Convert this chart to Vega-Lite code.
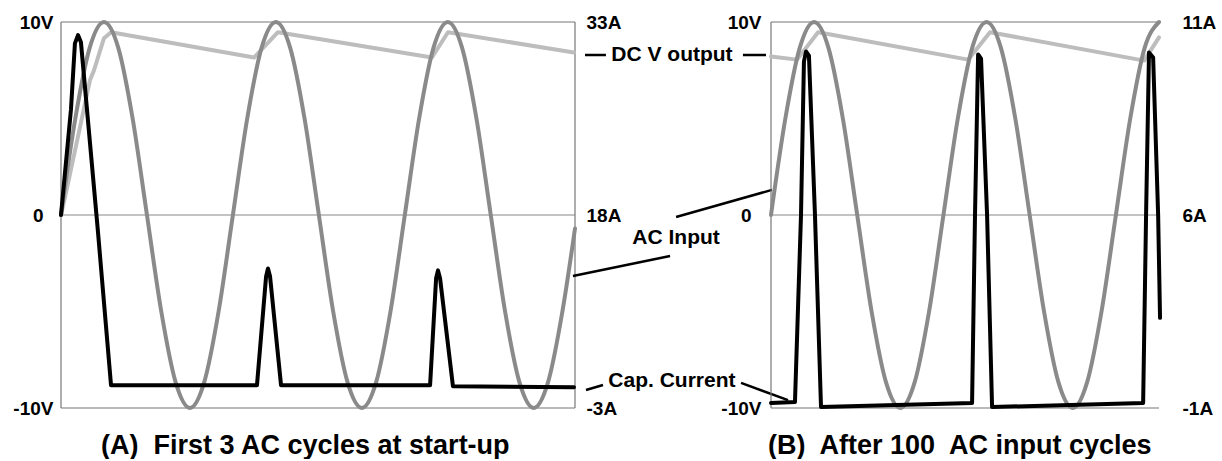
{
  "$schema": "https://vega.github.io/schema/vega-lite/v6.json",
  "background": "white",
  "padding": {"left": 12, "top": 13, "right": 0, "bottom": 0},
  "spacing": 196,
  "bounds": "flush",
  "config": {"view": {"stroke": null}, "font": "Liberation Sans"},
  "datasets": {
    "frameH": [{"v": 10}, {"v": -10}],
    "zero": [{"v": 0}],
    "frameVA": [{"t": 0}, {"t": 2.99}],
    "frameVB": [{"t": 0}],
    "acA": [
      {"t": 0, "v": 0}, {"t": 0.0833, "v": 5}, {"t": 0.1667, "v": 8.66}, {"t": 0.25, "v": 10}, {"t": 0.3333, "v": 8.66}, {"t": 0.4167, "v": 5},
      {"t": 0.5, "v": 0}, {"t": 0.5833, "v": -5}, {"t": 0.6667, "v": -8.66}, {"t": 0.75, "v": -10}, {"t": 0.8333, "v": -8.66}, {"t": 0.9167, "v": -5},
      {"t": 1, "v": 0}, {"t": 1.0833, "v": 5}, {"t": 1.1667, "v": 8.66}, {"t": 1.25, "v": 10}, {"t": 1.3333, "v": 8.66}, {"t": 1.4167, "v": 5},
      {"t": 1.5, "v": 0}, {"t": 1.5833, "v": -5}, {"t": 1.6667, "v": -8.66}, {"t": 1.75, "v": -10}, {"t": 1.8333, "v": -8.66}, {"t": 1.9167, "v": -5},
      {"t": 2, "v": 0}, {"t": 2.0833, "v": 5}, {"t": 2.1667, "v": 8.66}, {"t": 2.25, "v": 10}, {"t": 2.3333, "v": 8.66}, {"t": 2.4167, "v": 5},
      {"t": 2.5, "v": 0}, {"t": 2.5833, "v": -5}, {"t": 2.6667, "v": -8.66}, {"t": 2.75, "v": -10}, {"t": 2.8333, "v": -8.66}, {"t": 2.9167, "v": -5},
      {"t": 2.99, "v": -0.7}
    ],
    "dcA": [
      {"t": 0, "v": 0}, {"t": 0.023, "v": 0.9}, {"t": 0.169, "v": 7.0}, {"t": 0.192, "v": 7.5}, {"t": 0.25, "v": 9.16}, {"t": 0.291, "v": 9.47},
      {"t": 1.123, "v": 8.16}, {"t": 1.262, "v": 9.47}, {"t": 2.158, "v": 8.16}, {"t": 2.251, "v": 9.47}, {"t": 2.984, "v": 8.42}
    ],
    "capA": [
      {"t": 0, "v": 0}, {"t": 0.058, "v": 5.47}, {"t": 0.081, "v": 8.89}, {"t": 0.099, "v": 9.32}, {"t": 0.116, "v": 8.95},
      {"t": 0.215, "v": -0.87}, {"t": 0.291, "v": -8.82}, {"t": 1.14, "v": -8.82}, {"t": 1.193, "v": -3.18}, {"t": 1.204, "v": -2.77},
      {"t": 1.216, "v": -3.18}, {"t": 1.28, "v": -8.82}, {"t": 2.147, "v": -8.82}, {"t": 2.182, "v": -3.28}, {"t": 2.193, "v": -2.87},
      {"t": 2.205, "v": -3.28}, {"t": 2.28, "v": -8.87}, {"t": 2.984, "v": -8.92}
    ],
    "acB": [
      {"t": 0, "v": 0}, {"t": 0.0833, "v": 5}, {"t": 0.1667, "v": 8.66}, {"t": 0.25, "v": 10}, {"t": 0.3333, "v": 8.66}, {"t": 0.4167, "v": 5},
      {"t": 0.5, "v": 0}, {"t": 0.5833, "v": -5}, {"t": 0.6667, "v": -8.66}, {"t": 0.75, "v": -10}, {"t": 0.8333, "v": -8.66}, {"t": 0.9167, "v": -5},
      {"t": 1, "v": 0}, {"t": 1.0833, "v": 5}, {"t": 1.1667, "v": 8.66}, {"t": 1.25, "v": 10}, {"t": 1.3333, "v": 8.66}, {"t": 1.4167, "v": 5},
      {"t": 1.5, "v": 0}, {"t": 1.5833, "v": -5}, {"t": 1.6667, "v": -8.66}, {"t": 1.75, "v": -10}, {"t": 1.8333, "v": -8.66}, {"t": 1.9167, "v": -5},
      {"t": 2, "v": 0}, {"t": 2.0833, "v": 5}, {"t": 2.1667, "v": 8.66}, {"t": 2.25, "v": 10}
    ],
    "dcB": [
      {"t": 0, "v": 8.21}, {"t": 0.151, "v": 8.05}, {"t": 0.273, "v": 9.47}, {"t": 1.143, "v": 8.05}, {"t": 1.27, "v": 9.47},
      {"t": 2.164, "v": 8.0}, {"t": 2.25, "v": 9.2}
    ],
    "capB": [
      {"t": 0, "v": -9.74}, {"t": 0.139, "v": -9.69}, {"t": 0.174, "v": 0}, {"t": 0.191, "v": 7.95}, {"t": 0.203, "v": 8.47}, {"t": 0.22, "v": 8.26},
      {"t": 0.255, "v": 0}, {"t": 0.29, "v": -9.95}, {"t": 1.166, "v": -9.74}, {"t": 1.183, "v": 0}, {"t": 1.201, "v": 8.32}, {"t": 1.218, "v": 8.1},
      {"t": 1.253, "v": 0}, {"t": 1.282, "v": -9.95}, {"t": 2.158, "v": -9.74}, {"t": 2.175, "v": 0}, {"t": 2.192, "v": 8.42}, {"t": 2.216, "v": 8.16},
      {"t": 2.245, "v": 0}, {"t": 2.256, "v": -5.33}
    ],
    "notes": [
      {"t": 3.554, "v": 8.29, "label": "DC V output"},
      {"t": 3.578, "v": -1.19, "label": "AC Input"},
      {"t": 3.554, "v": -8.6, "label": "Cap. Current"}
    ],
    "links": [
      {"t1": 3.048, "t2": 3.17, "v1": 8.29, "v2": 8.29},
      {"t1": 3.967, "t2": 4.101, "v1": 8.29, "v2": 8.29},
      {"t1": 3.578, "t2": 4.136, "v1": -0.1, "v2": 1.3},
      {"t1": 3.543, "t2": 2.978, "v1": -2.12, "v2": -3.16},
      {"t1": 3.054, "t2": 3.153, "v1": -9.07, "v2": -8.81},
      {"t1": 3.956, "t2": 4.229, "v1": -8.7, "v2": -9.59}
    ]
  },
  "hconcat": [
    {
      "width": 514,
      "height": 386,
      "title": {"text": "(A)\u00a0 First 3 AC cycles at start-up", "orient": "bottom", "anchor": "start", "frame": "group", "dx": 40, "offset": 15, "fontSize": 27, "font": "Liberation Sans", "fontWeight": "bold", "color": "black"},
      "resolve": {"axis": {"y": "independent"}},
      "layer": [
        {
          "data": {"name": "frameH"},
          "mark": {"type": "rule", "color": "#777", "strokeWidth": 1.2},
          "encoding": {
            "y": {"field": "v", "type": "quantitative", "scale": {"domain": [-10, 10], "nice": false},
              "axis": {"orient": "left", "values": [-10, 0, 10], "ticks": false, "domain": false, "grid": false, "title": null,
                "labelExpr": "datum.value > 0 ? '10V' : datum.value < 0 ? '-10V' : '0'",
                "labelFont": "Liberation Sans", "labelFontSize": 19, "labelFontWeight": "bold", "labelColor": "black",
                "labelPadding": {"condition": {"test": "datum.value == 0", "value": 18}, "value": 8}}}
          }
        },
        {
          "data": {"name": "zero"},
          "mark": {"type": "rule", "color": "#888", "strokeWidth": 1.2},
          "encoding": {"y": {"field": "v", "type": "quantitative", "scale": {"domain": [-10, 10], "nice": false}, "axis": null}}
        },
        {
          "data": {"name": "frameVA"},
          "mark": {"type": "rule", "color": "#777", "strokeWidth": 1.2},
          "encoding": {"x": {"field": "t", "type": "quantitative", "scale": {"domain": [0, 2.99], "nice": false, "zero": false}, "axis": null}}
        },
        {
          "data": {"name": "dcA"},
          "mark": {"type": "line", "color": "#bdbdbd", "strokeWidth": 4, "strokeJoin": "round", "strokeCap": "round"},
          "encoding": {
            "x": {"field": "t", "type": "quantitative", "scale": {"domain": [0, 2.99], "nice": false, "zero": false}, "axis": null},
            "y": {"field": "v", "type": "quantitative", "scale": {"domain": [-10, 10], "nice": false},
              "axis": {"orient": "right", "values": [-10, 0, 10], "ticks": false, "domain": false, "grid": false, "title": null,
                "labelExpr": "datum.value > 0 ? '33A' : datum.value < 0 ? '-3A' : '18A'",
                "labelFont": "Liberation Sans", "labelFontSize": 19, "labelFontWeight": "bold", "labelColor": "black", "labelPadding": 11}}
          }
        },
        {
          "data": {"name": "acA"},
          "mark": {"type": "line", "color": "#8a8a8a", "strokeWidth": 4, "interpolate": "monotone", "strokeJoin": "round", "strokeCap": "round"},
          "encoding": {
            "x": {"field": "t", "type": "quantitative", "scale": {"domain": [0, 2.99], "nice": false, "zero": false}, "axis": null},
            "y": {"field": "v", "type": "quantitative", "scale": {"domain": [-10, 10], "nice": false}, "axis": null}
          }
        },
        {
          "data": {"name": "capA"},
          "mark": {"type": "line", "color": "black", "strokeWidth": 4, "strokeJoin": "round", "strokeCap": "round"},
          "encoding": {
            "x": {"field": "t", "type": "quantitative", "scale": {"domain": [0, 2.99], "nice": false, "zero": false}, "axis": null},
            "y": {"field": "v", "type": "quantitative", "scale": {"domain": [-10, 10], "nice": false}, "axis": null}
          }
        },
        {
          "data": {"name": "links"},
          "mark": {"type": "rule", "color": "black", "strokeWidth": 2.5},
          "encoding": {
            "x": {"field": "t1", "type": "quantitative", "scale": {"domain": [0, 2.99], "nice": false, "zero": false}, "axis": null},
            "x2": {"field": "t2"},
            "y": {"field": "v1", "type": "quantitative", "scale": {"domain": [-10, 10], "nice": false}, "axis": null},
            "y2": {"field": "v2"}
          }
        },
        {
          "data": {"name": "notes"},
          "mark": {"type": "text", "font": "Liberation Sans", "fontSize": 21, "fontWeight": "bold", "color": "black", "align": "center", "baseline": "middle"},
          "encoding": {
            "x": {"field": "t", "type": "quantitative", "scale": {"domain": [0, 2.99], "nice": false, "zero": false}, "axis": null},
            "y": {"field": "v", "type": "quantitative", "scale": {"domain": [-10, 10], "nice": false}, "axis": null},
            "text": {"field": "label"}
          }
        }
      ]
    },
    {
      "width": 388,
      "height": 386,
      "title": {"text": "(B)\u00a0 After 100\u00a0 AC input cycles", "orient": "bottom", "anchor": "start", "frame": "group", "dx": -3, "offset": 15, "fontSize": 27, "font": "Liberation Sans", "fontWeight": "bold", "color": "black"},
      "resolve": {"axis": {"y": "independent"}},
      "layer": [
        {
          "data": {"name": "frameH"},
          "mark": {"type": "rule", "color": "#777", "strokeWidth": 1.2},
          "encoding": {
            "y": {"field": "v", "type": "quantitative", "scale": {"domain": [-10, 10], "nice": false},
              "axis": {"orient": "left", "values": [-10, 0, 10], "ticks": false, "domain": false, "grid": false, "title": null,
                "labelExpr": "datum.value > 0 ? '10V' : datum.value < 0 ? '-10V' : '0'",
                "labelFont": "Liberation Sans", "labelFontSize": 19, "labelFontWeight": "bold", "labelColor": "black",
                "labelPadding": {"condition": {"test": "datum.value == 0", "value": 20}, "value": 10}}}
          }
        },
        {
          "data": {"name": "zero"},
          "mark": {"type": "rule", "color": "#888", "strokeWidth": 1.2},
          "encoding": {"y": {"field": "v", "type": "quantitative", "scale": {"domain": [-10, 10], "nice": false}, "axis": null}}
        },
        {
          "data": {"name": "frameVB"},
          "mark": {"type": "rule", "color": "#777", "strokeWidth": 1.2},
          "encoding": {"x": {"field": "t", "type": "quantitative", "scale": {"domain": [0, 2.25], "nice": false, "zero": false}, "axis": null}}
        },
        {
          "data": {"name": "dcB"},
          "mark": {"type": "line", "color": "#bdbdbd", "strokeWidth": 4, "strokeJoin": "round", "strokeCap": "round"},
          "encoding": {
            "x": {"field": "t", "type": "quantitative", "scale": {"domain": [0, 2.25], "nice": false, "zero": false}, "axis": null},
            "y": {"field": "v", "type": "quantitative", "scale": {"domain": [-10, 10], "nice": false},
              "axis": {"orient": "right", "values": [-10, 0, 10], "ticks": false, "domain": false, "grid": false, "title": null,
                "labelExpr": "datum.value > 0 ? '11A' : datum.value < 0 ? '-1A' : '6A'",
                "labelFont": "Liberation Sans", "labelFontSize": 19, "labelFontWeight": "bold", "labelColor": "black", "labelPadding": 23}}
          }
        },
        {
          "data": {"name": "acB"},
          "mark": {"type": "line", "color": "#8a8a8a", "strokeWidth": 4, "interpolate": "monotone", "strokeJoin": "round", "strokeCap": "round"},
          "encoding": {
            "x": {"field": "t", "type": "quantitative", "scale": {"domain": [0, 2.25], "nice": false, "zero": false}, "axis": null},
            "y": {"field": "v", "type": "quantitative", "scale": {"domain": [-10, 10], "nice": false}, "axis": null}
          }
        },
        {
          "data": {"name": "capB"},
          "mark": {"type": "line", "color": "black", "strokeWidth": 4, "strokeJoin": "round", "strokeCap": "round"},
          "encoding": {
            "x": {"field": "t", "type": "quantitative", "scale": {"domain": [0, 2.25], "nice": false, "zero": false}, "axis": null},
            "y": {"field": "v", "type": "quantitative", "scale": {"domain": [-10, 10], "nice": false}, "axis": null}
          }
        }
      ]
    }
  ]
}
